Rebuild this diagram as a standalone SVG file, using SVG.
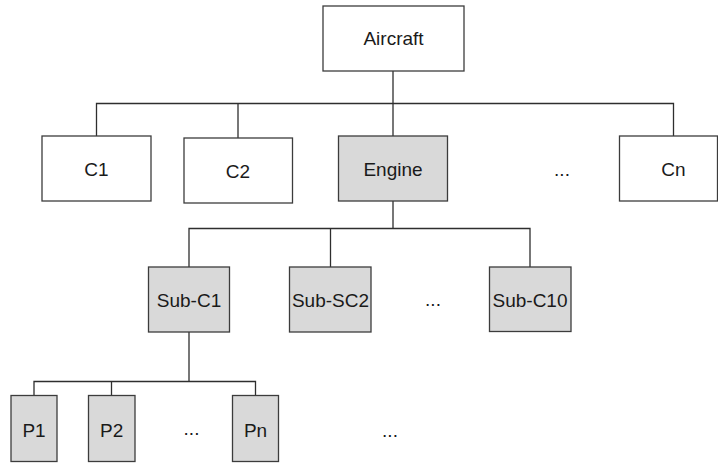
<svg xmlns="http://www.w3.org/2000/svg" width="718" height="463" viewBox="0 0 718 463">
<style>
.box{fill:#ffffff;stroke:#3c3c3c;stroke-width:1.3}
.gray{fill:#d9d9d9}
.lbl{font-family:"Liberation Sans",Arial,sans-serif;font-size:19px;fill:#1a1a1a;text-anchor:middle}
.conn{fill:none;stroke:#2e2e2e;stroke-width:1.3}
</style>
<rect width="718" height="463" fill="#ffffff"/>
<g id="connectors" class="conn">
<path d="M393,71V136"/>
<path d="M96.5,136V103.5H673.5V136"/>
<path d="M238,103.5V138"/>
<path d="M393,201V228.5"/>
<path d="M189,267V228.5H530V267"/>
<path d="M330.5,228.5V267"/>
<path d="M189,332V381.5"/>
<path d="M34,395.5V381.5H255.5V395.5"/>
<path d="M111.5,381.5V395.5"/>
</g>
<g id="aircraft"><rect class="box" x="323" y="6" width="141" height="65"/><text class="lbl" x="393.5" y="45">Aircraft</text></g>
<g id="c1"><rect class="box" x="42" y="136" width="109" height="65"/><text class="lbl" x="96.5" y="175.5">C1</text></g>
<g id="c2"><rect class="box" x="184" y="138" width="108.5" height="65"/><text class="lbl" x="238" y="178">C2</text></g>
<g id="engine"><rect class="box gray" x="338.5" y="136" width="109" height="65"/><text class="lbl" x="393" y="175.5">Engine</text></g>
<g id="ellipsis1"><text class="lbl" x="562" y="175.5">...</text></g>
<g id="cn"><rect class="box" x="619.5" y="136" width="98" height="65"/><text class="lbl" x="673.5" y="175.5">Cn</text></g>
<g id="subc1"><rect class="box gray" x="148.5" y="267" width="81" height="65"/><text class="lbl" x="189" y="306.5">Sub-C1</text></g>
<g id="subsc2"><rect class="box gray" x="289.5" y="267" width="81.5" height="65"/><text class="lbl" x="330.5" y="306.5">Sub-SC2</text></g>
<g id="ellipsis2"><text class="lbl" x="433" y="306">...</text></g>
<g id="subc10"><rect class="box gray" x="489.5" y="267" width="81.5" height="64.5"/><text class="lbl" x="530" y="306.5">Sub-C10</text></g>
<g id="p1"><rect class="box gray" x="11" y="395.5" width="46" height="66"/><text class="lbl" x="34" y="437">P1</text></g>
<g id="p2"><rect class="box gray" x="88.5" y="395.5" width="46.5" height="66"/><text class="lbl" x="111.7" y="437">P2</text></g>
<g id="ellipsis3"><text class="lbl" x="191.5" y="434.5">...</text></g>
<g id="pn"><rect class="box gray" x="232.5" y="395.5" width="46" height="66"/><text class="lbl" x="255.5" y="437">Pn</text></g>
<g id="ellipsis4"><text class="lbl" x="390" y="436.5">...</text></g>
</svg>
